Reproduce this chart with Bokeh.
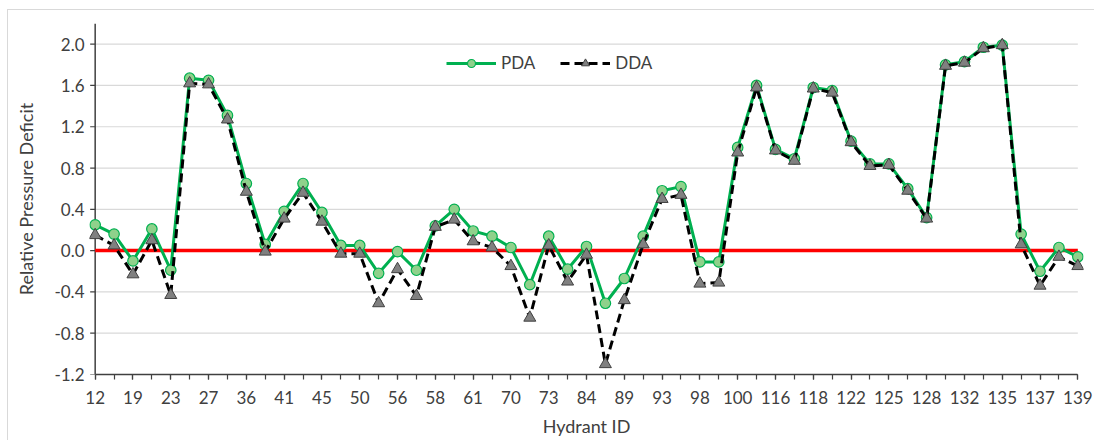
from bokeh.plotting import figure
from bokeh.models import FixedTicker, Legend, LegendItem, Range1d
from bokeh.embed import file_html
from bokeh.resources import INLINE

hydrant_ids = ["12", "16", "19", "21", "23", "25", "27", "31", "36", "39", "41", "43",
               "45", "48", "50", "53", "56", "57", "58", "60", "61", "66", "70", "72",
               "73", "80", "84", "86", "89", "91", "93", "95", "98", "99", "100", "104",
               "116", "117", "118", "120", "122", "124", "125", "127", "128", "130",
               "132", "134", "135", "136", "137", "138", "139"]

pda = [0.25, 0.16, -0.10, 0.21, -0.19, 1.67, 1.65, 1.31, 0.65, 0.06, 0.38, 0.65,
       0.37, 0.05, 0.05, -0.22, -0.01, -0.19, 0.24, 0.40, 0.19, 0.14, 0.03, -0.33,
       0.14, -0.18, 0.04, -0.51, -0.27, 0.14, 0.58, 0.62, -0.11, -0.11, 1.00, 1.60,
       0.98, 0.89, 1.58, 1.55, 1.06, 0.84, 0.84, 0.60, 0.32, 1.80, 1.83, 1.97, 1.99,
       0.16, -0.20, 0.03, -0.06]

dda = [0.15, 0.05, -0.23, 0.10, -0.43, 1.62, 1.61, 1.27, 0.57, -0.01, 0.31, 0.56,
       0.28, -0.03, -0.03, -0.51, -0.18, -0.44, 0.23, 0.30, 0.09, 0.03, -0.15, -0.65,
       0.05, -0.30, -0.04, -1.10, -0.48, 0.06, 0.50, 0.54, -0.32, -0.31, 0.95, 1.58,
       0.97, 0.87, 1.57, 1.53, 1.05, 0.82, 0.83, 0.58, 0.31, 1.79, 1.82, 1.96, 1.99,
       0.06, -0.34, -0.06, -0.15]

y_ticks = [-1.2, -0.8, -0.4, 0.0, 0.4, 0.8, 1.2, 1.6, 2.0]
y_min, y_max = -1.2, 2.2

x = list(range(len(hydrant_ids)))
pad = 0.3  # room so the end markers are not cut by the frame

W, H = 1087, 431
BL, BR, BT, BB = 81, 12, 13, 67
frame_w = W - BL - BR
tick_len = 5 * (x[-1] - x[0] + 2 * pad) / frame_w  # 5 px in data units

p = figure(width=W, height=H, output_backend="svg", toolbar_location=None,
           x_range=Range1d(x[0] - pad, x[-1] + pad), y_range=Range1d(y_min, y_max),
           min_border_left=BL, min_border_right=BR, min_border_top=BT, min_border_bottom=BB)
p.styles = {"border-left": "1px solid #d9d9d9", "border-top": "1px solid #d9d9d9",
            "margin-left": "7px", "margin-top": "9px"}
p.outline_line_color = None
p.background_fill_color = "white"
p.border_fill_color = "white"

FONT = "Lato"
TXT = "#404040"
AX = "#404040"

n_t = len(y_ticks)
# horizontal gridlines, limited to the category span
p.segment(x0=[x[0]] * n_t, x1=[x[-1]] * n_t, y0=y_ticks, y1=y_ticks,
          line_color="#d9d9d9", line_width=1.2)
# value axis line and its tick marks, placed at the first category
p.segment(x0=[x[0]], x1=[x[0]], y0=[y_min], y1=[y_max], line_color=AX, line_width=1.5)
p.segment(x0=[x[0] - tick_len] * n_t, x1=[x[0]] * n_t, y0=y_ticks, y1=y_ticks,
          line_color=AX, line_width=1.2)
# zero reference line
p.line([x[0], x[-1]], [0, 0], line_color="#ff0000", line_width=3.5)

pda_line = p.line(x, pda, line_color="#00b050", line_width=3)
pda_pts = p.scatter(x, pda, marker="circle", size=10.5, fill_color="#8fd18b",
                    line_color="#00b050", line_width=1.2)
dda_line = p.line(x, dda, line_color="black", line_width=3, line_dash="9 5")
dda_pts = p.scatter(x, dda, marker="triangle", size=12, fill_color="#808080",
                    line_color="#404040", line_width=1)

# axes
even = [i for i in x if i % 2 == 0]
p.xaxis.ticker = FixedTicker(ticks=even, minor_ticks=x)
p.xaxis.major_label_overrides = {i: hydrant_ids[i] for i in even}
p.xaxis.axis_label = "Hydrant ID"
p.xaxis.bounds = (x[0], x[-1])
p.yaxis.ticker = FixedTicker(ticks=y_ticks)
p.yaxis.major_label_overrides = {t: f"{t:.1f}" for t in y_ticks}
p.yaxis.axis_label = "Relative Pressure Deficit"

for ax in (p.xaxis[0], p.yaxis[0]):
    ax.axis_line_color = AX
    ax.axis_line_width = 1.5
    ax.major_tick_line_color = AX
    ax.minor_tick_line_color = AX
    ax.major_tick_line_width = 1.2
    ax.minor_tick_line_width = 1.2
    ax.major_tick_in = 0
    ax.major_tick_out = 5
    ax.minor_tick_in = 0
    ax.minor_tick_out = 5
    ax.major_label_text_font = FONT
    ax.major_label_text_font_size = "17px"
    ax.major_label_text_color = TXT
    ax.axis_label_text_font = FONT
    ax.axis_label_text_font_size = "18px"
    ax.axis_label_text_font_style = "normal"
    ax.axis_label_text_color = TXT
# the y axis itself only carries the labels; its line and ticks are drawn above
p.yaxis.axis_line_color = None
p.yaxis.major_tick_line_color = None
p.yaxis.minor_tick_line_color = None
p.yaxis.major_tick_out = 0
p.yaxis.minor_tick_out = 0
p.yaxis.major_label_standoff = 5
p.yaxis.axis_label_standoff = 14
p.xaxis.major_label_standoff = 11
p.xaxis.axis_label_standoff = 8

p.xgrid.grid_line_color = None
p.ygrid.grid_line_color = None

legend = Legend(items=[LegendItem(label="PDA", renderers=[pda_line, pda_pts]),
                       LegendItem(label="DDA", renderers=[dda_line, dda_pts])],
                orientation="horizontal", location=(357, 301),
                glyph_width=50, glyph_height=20, label_standoff=5, spacing=25,
                padding=0, margin=0, border_line_color=None,
                background_fill_alpha=0,
                label_text_font=FONT, label_text_font_size="17px",
                label_text_color=TXT)
p.add_layout(legend, "center")

open("out.html", "w").write(file_html(p, INLINE))
